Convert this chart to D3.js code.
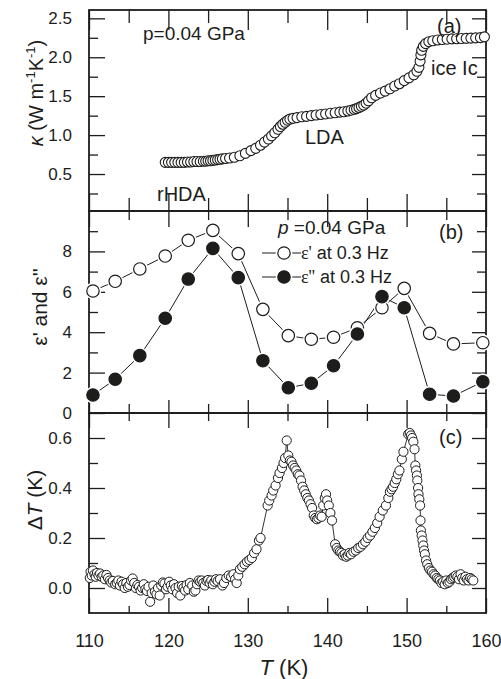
<!DOCTYPE html>
<html><head><meta charset="utf-8">
<script src="https://cdn.jsdelivr.net/npm/d3@7"></script>
<style>
body{margin:0;background:#fff}
svg{display:block}
text{font-family:"Liberation Sans",Arial,Helvetica,sans-serif;fill:#1d1d1b}
</style>
</head><body>
<svg id="chart" width="501" height="679"></svg>
<script>
// ---------- DATA ----------
const xTicks = [110, 120, 130, 140, 150, 160];
const xMinor = [115, 125, 135, 145, 155];
const aTicks = [0.5, 1.0, 1.5, 2.0, 2.5];
const aMinor = [0.25, 0.75, 1.25, 1.75, 2.25];
const bTicks = [0, 2, 4, 6, 8];
const bMinor = [1, 3, 5, 7, 9];
const cTicks = [0.0, 0.2, 0.4, 0.6];
const cMinor = [0.1, 0.3, 0.5];

// (a) thermal conductivity
const kappaT = [119.6,120.0,120.4,120.8,121.2,121.6,122.0,122.4,122.8,123.2,123.6,124.0,124.4,124.7,125.0,125.3,125.6,125.9,126.2,126.5,126.8,127.2,127.7,128.3,129.0,129.7,130.4,131.0,131.6,132.1,132.6,133.0,133.4,133.8,134.1,134.4,134.7,135.0,135.3,135.7,136.2,136.8,137.4,138.0,138.6,139.2,139.8,140.4,141.0,141.6,142.1,142.6,143.0,143.4,143.7,144.0,144.3,144.6,144.9,145.2,145.6,146.1,146.7,147.3,147.9,148.5,149.1,149.7,150.3,150.9,151.3,151.55,151.7,151.8,151.9,152.1,152.4,152.8,153.3,153.9,154.5,155.1,155.7,156.3,156.9,157.5,158.1,158.7,159.3,159.8];
const kappaV = [0.65,0.65,0.65,0.65,0.65,0.65,0.65,0.655,0.655,0.66,0.66,0.66,0.665,0.665,0.67,0.67,0.675,0.68,0.685,0.69,0.695,0.70,0.705,0.715,0.735,0.765,0.80,0.83,0.87,0.91,0.95,0.99,1.03,1.075,1.11,1.14,1.165,1.19,1.205,1.215,1.225,1.235,1.24,1.25,1.258,1.265,1.272,1.28,1.287,1.295,1.30,1.31,1.32,1.33,1.34,1.355,1.37,1.385,1.41,1.44,1.48,1.51,1.54,1.565,1.595,1.63,1.66,1.70,1.735,1.775,1.82,1.87,1.95,2.03,2.09,2.14,2.175,2.20,2.212,2.222,2.228,2.232,2.236,2.238,2.24,2.243,2.246,2.249,2.252,2.262];

// (b) permittivity at 0.3 Hz
const epsT  = [110.5,113.3,116.4,119.6,122.5,125.6,128.8,131.9,135.1,138.0,140.8,143.8,146.9,149.7,152.9,155.9,159.6];
const eps1  = [6.04,6.52,7.13,7.77,8.55,9.04,7.89,5.13,3.83,3.65,3.75,4.22,5.21,6.17,3.94,3.42,3.48];
const eps2  = [0.89,1.67,2.84,4.69,6.63,8.15,6.70,2.59,1.25,1.47,2.34,3.91,5.76,5.21,0.93,0.84,1.55];

// (c) temperature difference
const dtT = [110.1,110.2,110.35,110.5,110.7,110.85,111.0,111.2,111.4,111.6,111.8,112.0,112.2,112.4,112.6,112.8,113.0,113.3,113.5,113.7,113.9,114.1,114.3,114.5,114.7,114.9,115.1,115.3,115.5,115.7,115.9,116.1,116.3,116.5,116.7,116.9,117.1,117.3,117.5,117.7,117.9,118.1,118.3,118.5,118.7,118.9,119.1,119.3,119.5,119.7,119.9,120.1,120.3,120.5,120.7,120.9,121.1,121.3,121.5,121.7,121.9,122.1,122.3,122.5,122.7,123.0,123.2,123.4,123.6,123.8,124.0,124.2,124.4,124.6,124.8,125.0,125.2,125.4,125.6,125.8,126.0,126.2,126.5,126.8,127.0,127.3,127.6,127.9,128.2,128.4,128.6,128.8,129.0,129.3,129.6,129.9,130.2,130.5,130.8,131.1,131.4,131.6,132.5,132.7,133.0,133.2,133.5,133.8,134.0,134.3,134.5,134.7,134.9,135.1,135.3,135.5,135.7,135.9,136.1,136.3,136.5,136.7,136.9,137.1,137.3,137.5,137.7,137.9,138.1,138.3,138.5,138.7,138.9,139.1,139.3,139.5,139.7,139.85,140.0,140.2,140.4,140.6,141.0,141.2,141.4,141.6,141.8,142.0,142.2,142.4,142.6,142.8,143.0,143.3,143.6,143.9,144.2,144.5,144.8,145.1,145.4,145.7,146.0,146.3,146.6,147.0,147.4,147.7,147.9,148.1,148.3,148.5,148.7,148.9,149.1,149.4,149.6,150.2,150.4,150.55,150.7,150.85,151.0,151.1,151.2,151.3,151.35,151.45,151.5,151.6,151.7,151.75,151.8,151.9,152.0,152.1,152.2,152.3,152.45,152.6,152.8,153.0,153.2,153.4,153.6,153.8,154.0,154.2,154.4,154.6,154.8,155.0,155.2,155.4,155.6,155.8,156.0,156.2,156.4,156.6,156.8,157.0,157.2,157.4,157.6,157.8,158.0,158.2,158.4];
const dtV = [0.04,0.065,0.05,0.07,0.055,0.045,0.06,0.05,0.058,0.045,0.05,0.035,0.052,0.04,0.03,0.022,0.028,0.015,0.02,0.03,0.01,0.025,0.015,0.0,0.02,0.005,0.012,0.03,0.038,0.02,0.0,0.012,0.005,-0.01,0.0,0.015,-0.005,-0.012,0.005,-0.055,-0.02,0.01,-0.015,-0.025,0.0,-0.03,0.01,0.022,0.018,-0.005,0.005,0.025,0.01,-0.005,0.015,0.0,-0.02,0.005,-0.03,0.008,0.0,-0.01,0.012,-0.005,0.02,0.01,-0.015,-0.01,0.015,0.03,0.025,0.03,0.02,0.01,0.028,0.032,0.02,0.03,0.015,0.025,0.035,0.028,0.035,0.01,0.02,0.04,0.05,0.045,0.055,0.035,0.02,0.05,0.075,0.085,0.095,0.105,0.112,0.12,0.14,0.155,0.19,0.2,0.33,0.35,0.37,0.39,0.41,0.44,0.46,0.48,0.5,0.52,0.59,0.53,0.51,0.505,0.49,0.48,0.47,0.455,0.45,0.43,0.405,0.39,0.375,0.36,0.35,0.335,0.32,0.29,0.28,0.275,0.28,0.29,0.285,0.33,0.36,0.375,0.35,0.33,0.3,0.27,0.175,0.16,0.15,0.145,0.14,0.13,0.135,0.125,0.13,0.14,0.135,0.145,0.15,0.16,0.165,0.175,0.185,0.2,0.21,0.225,0.24,0.26,0.285,0.31,0.33,0.36,0.385,0.395,0.405,0.42,0.435,0.455,0.47,0.515,0.545,0.615,0.62,0.61,0.6,0.585,0.555,0.49,0.47,0.45,0.43,0.4,0.375,0.355,0.33,0.27,0.23,0.21,0.19,0.17,0.15,0.135,0.11,0.095,0.08,0.07,0.065,0.055,0.05,0.04,0.035,0.03,0.02,0.025,0.015,0.03,0.02,0.025,0.035,0.04,0.045,0.05,0.045,0.035,0.055,0.04,0.03,0.045,0.035,0.03,0.04,0.035,0.03];

// ---------- LAYOUT ----------
const L = 89, R = 486;
const pa = {top: 10, bottom: 211}, pb = {top: 211, bottom: 413}, pc = {top: 413, bottom: 613};
const ink = "#1d1d1b";

const svg = d3.select("#chart");
const x = d3.scaleLinear().domain([110, 160]).range([L, R]);
const ya = d3.scaleLinear().domain([0.025, 2.607]).range([pa.bottom, pa.top]);
const yb = d3.scaleLinear().domain([0, 10]).range([pb.bottom, pb.top]);
const yc = d3.scaleLinear().domain([-0.1, 0.7]).range([pc.bottom, pc.top]);

function styleAxis(g, fs) {
  g.select(".domain").remove();
  g.selectAll("line").attr("stroke", ink).attr("stroke-width", 1.3);
  g.selectAll("text").attr("font-size", fs).attr("fill", ink)
   .attr("font-family", '"Liberation Sans",Arial,sans-serif');
}
function addAxis(axis, tx, ty, fs) {
  const g = svg.append("g").attr("transform", `translate(${tx},${ty})`).call(axis);
  styleAxis(g, fs || 17);
  return g;
}
function panelAxes(y, p, major, minor, fmt, tk) {
  // left
  addAxis(d3.axisLeft(y).tickValues(major).tickSize(-16).tickPadding(17).tickFormat(fmt), L, 0, 17);
  addAxis(d3.axisLeft(y).tickValues(minor).tickSize(-9).tickFormat(""), L, 0);
  // right
  addAxis(d3.axisRight(y).tickValues(major).tickSize(-14).tickFormat(""), R, 0);
  addAxis(d3.axisRight(y).tickValues(minor).tickSize(-9).tickFormat(""), R, 0);
  // top
  addAxis(d3.axisTop(x).tickValues(xTicks).tickSize(-tk[0]).tickFormat(""), 0, p.top);
  addAxis(d3.axisTop(x).tickValues(xMinor).tickSize(-tk[1]).tickFormat(""), 0, p.top);
  // bottom
  addAxis(d3.axisBottom(x).tickValues(xTicks).tickSize(-tk[2]).tickPadding(21)
    .tickFormat(tk[4] ? d3.format("d") : ""), 0, p.bottom, 18);
  addAxis(d3.axisBottom(x).tickValues(xMinor).tickSize(-tk[3]).tickFormat(""), 0, p.bottom);
  svg.append("rect").attr("x", L).attr("y", p.top).attr("width", R - L).attr("height", p.bottom - p.top)
    .attr("fill", "none").attr("stroke", ink).attr("stroke-width", 1.8);
}

panelAxes(ya, pa, aTicks, aMinor, d3.format(".1f"), [20, 13, 17, 13, false]);
panelAxes(yb, pb, bTicks, bMinor, d3.format("d"), [16, 9, 13, 9, false]);
panelAxes(yc, pc, cTicks, cMinor, d3.format(".1f"), [15, 8, 15, 7, true]);

// ---------- PANEL (a) ----------
svg.append("g").selectAll("circle").data(kappaT).join("circle")
  .attr("cx", (d) => x(d)).attr("cy", (d, i) => ya(kappaV[i])).attr("r", 5)
  .attr("fill", "#fff").attr("stroke", ink).attr("stroke-width", 1.1);

// ---------- PANEL (b) ----------
function series(vals, filled) {
  const line = d3.line().x((d) => x(d)).y((d, i) => yb(vals[i]));
  svg.append("path").attr("d", line(epsT)).attr("fill", "none").attr("stroke", ink).attr("stroke-width", 1);
}
series(eps1); series(eps2);
function markers(vals, filled) {
  const g = svg.append("g");
  g.selectAll("circle.h").data(epsT).join("circle").attr("class", "h")
    .attr("cx", (d) => x(d)).attr("cy", (d, i) => yb(vals[i])).attr("r", 8.3).attr("fill", "#fff");
  g.selectAll("circle.m").data(epsT).join("circle").attr("class", "m")
    .attr("cx", (d) => x(d)).attr("cy", (d, i) => yb(vals[i])).attr("r", 6.2)
    .attr("fill", filled ? ink : "#fff").attr("stroke", ink).attr("stroke-width", 1.2);
}
markers(eps1, false); markers(eps2, true);

// legend
const leg = [{t: "\u03b5' at 0.3 Hz", f: false, y: 253}, {t: "\u03b5'' at 0.3 Hz", f: true, y: 277}];
leg.forEach((l) => {
  svg.append("line").attr("x1", 262).attr("x2", 301).attr("y1", l.y).attr("y2", l.y).attr("stroke", ink).attr("stroke-width", 1);
  svg.append("circle").attr("cx", 284).attr("cy", l.y).attr("r", 8.3).attr("fill", "#fff");
  svg.append("circle").attr("cx", 284).attr("cy", l.y).attr("r", 6.2).attr("fill", l.f ? ink : "#fff").attr("stroke", ink).attr("stroke-width", 1.2);
  const t = svg.append("text").attr("x", 301).attr("y", l.y + 6).attr("font-size", 18);
  t.append("tspan").attr("font-family", '"Liberation Serif",serif').text(l.t.slice(0, l.f ? 3 : 2));
  t.append("tspan").text(l.t.slice(l.f ? 3 : 2));
});

// ---------- PANEL (c) ----------
svg.append("path").attr("d", d3.line().x((d) => x(d)).y((d, i) => yc(dtV[i]))(dtT))
  .attr("fill", "none").attr("stroke", ink).attr("stroke-width", 0.9);
svg.append("g").selectAll("circle").data(dtT).join("circle")
  .attr("cx", (d) => x(d)).attr("cy", (d, i) => yc(dtV[i])).attr("r", 4.6)
  .attr("fill", "#fff").attr("stroke", ink).attr("stroke-width", 1);

// ---------- TEXT ----------
function txt(s, xx, yy, fs, anchor) {
  return svg.append("text").attr("x", xx).attr("y", yy).attr("font-size", fs).attr("text-anchor", anchor || "start").text(s);
}
txt("p=0.04 GPa", 143, 40, 19);
txt("(a)", 437, 33, 20);
txt("ice Ic", 431, 75, 20);
txt("LDA", 305, 144, 20);
txt("rHDA", 157, 201, 20);
const pb1 = svg.append("text").attr("x", 278).attr("y", 234).attr("font-size", 19);
pb1.append("tspan").attr("font-style", "italic").text("p");
pb1.append("tspan").text(" =0.04 GPa");
txt("(b)", 439, 239, 20);
txt("(c)", 439, 444, 20);

// axis titles
const xt = svg.append("text").attr("x", 284).attr("y", 675).attr("font-size", 22).attr("text-anchor", "middle");
xt.append("tspan").attr("font-style", "italic").text("T");
xt.append("tspan").text(" (K)");

const k = svg.append("text").attr("transform", "translate(43,93) rotate(-90)").attr("font-size", 20).attr("text-anchor", "middle");
k.append("tspan").attr("font-style", "italic").text("\u03ba");
k.append("tspan").text(" (W m");
k.append("tspan").attr("font-size", 13).attr("dy", -8).text("-1");
k.append("tspan").attr("dy", 8).text("K");
k.append("tspan").attr("font-size", 13).attr("dy", -8).text("-1");
k.append("tspan").attr("dy", 8).text(")");

svg.append("text").attr("transform", "translate(47,307) rotate(-90)").attr("font-size", 21)
  .attr("text-anchor", "middle").text("\u03b5' and \u03b5''");

const dt = svg.append("text").attr("transform", "translate(42,500) rotate(-90)").attr("font-size", 21).attr("text-anchor", "middle");
dt.append("tspan").text("\u0394");
dt.append("tspan").attr("font-style", "italic").text("T");
dt.append("tspan").text(" (K)");
</script>
</body></html>
